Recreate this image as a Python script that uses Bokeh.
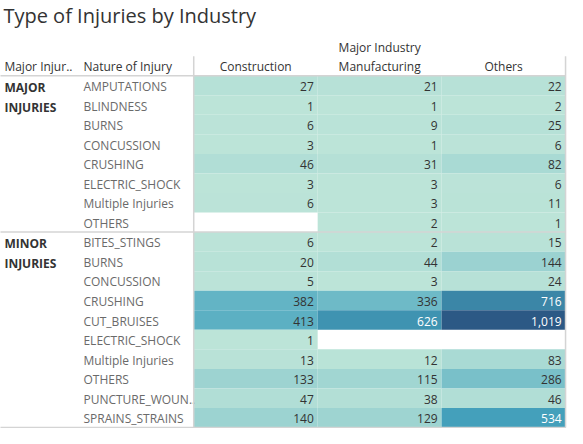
import numpy as np
from bokeh.plotting import figure
from bokeh.models import Range1d
from bokeh.core.properties import value
from bokeh.embed import file_html
from bokeh.resources import INLINE

title = "Type of Injuries by Industry"
industries = ["Construction", "Manufacturing", "Others"]
groups = ["MAJOR\nINJURIES", "MINOR\nINJURIES"]

major_natures = ["AMPUTATIONS", "BLINDNESS", "BURNS", "CONCUSSION", "CRUSHING",
                 "ELECTRIC_SHOCK", "Multiple Injuries", "OTHERS"]
construction_major = [27, 1, 6, 3, 46, 3, 6, None]
manufacturing_major = [21, 1, 9, 1, 31, 3, 3, 2]
others_major = [22, 2, 25, 6, 82, 6, 11, 1]

minor_natures = ["BITES_STINGS", "BURNS", "CONCUSSION", "CRUSHING", "CUT_BRUISES",
                 "ELECTRIC_SHOCK", "Multiple Injuries", "OTHERS", "PUNCTURE_WOUN..",
                 "SPRAINS_STRAINS"]
construction_minor = [6, 20, 5, 382, 413, 1, 13, 133, 47, 140]
manufacturing_minor = [2, 44, 3, 336, 626, None, 12, 115, 38, 129]
others_minor = [15, 144, 24, 716, 1019, None, 83, 286, 46, 534]

# ---- layout (in reference pixel coordinates) ----
FONT = value("Open Sans")
FS = "12px"
ROW_TOP = 83
ROW_H = 20
COL_X0 = 200
COL_W = 127
ROW_LABEL_X = 87
GROUP_X = 6

natures = major_natures + minor_natures
cols = [construction_major + construction_minor,
        manufacturing_major + manufacturing_minor,
        others_major + others_minor]

all_vals = [v for c in cols for v in c if v is not None]
vmin, vmax = min(all_vals), max(all_vals)

stops = np.array([0.0, 0.5, 1.0])
stop_rgb = np.array([[0xbc, 0xe4, 0xd8], [0x45, 0xa4, 0xbe], [0x2c, 0x59, 0x85]], dtype=float)

def color_for(v):
    t = (v - vmin) / (vmax - vmin)
    rgb = [np.interp(t, stops, stop_rgb[:, k]) for k in range(3)]
    return "#%02x%02x%02x" % tuple(int(round(c)) for c in rgb)

p = figure(width=567, height=428, output_backend="svg", toolbar_location=None,
           x_range=Range1d(2, 583), y_range=Range1d(444, 6), min_border=0)
p.axis.visible = False
p.grid.visible = False
p.outline_line_color = None
p.background_fill_color = "white"
p.border_fill_color = "white"

# cells
L, R, T, B, C = [], [], [], [], []
tx, ty, tt, tc = [], [], [], []
for ci, col in enumerate(cols):
    for ri, v in enumerate(col):
        if v is None:
            continue
        left = COL_X0 + ci * COL_W
        top = ROW_TOP + ri * ROW_H
        L.append(left); R.append(left + COL_W)
        T.append(top); B.append(top + ROW_H)
        C.append(color_for(v))
        tx.append(left + COL_W - 4); ty.append(top + ROW_H / 2 + 1)
        tt.append(f"{v:,}")
        tc.append("white" if (v - vmin) / (vmax - vmin) > 0.5 else "#333333")

p.quad(left=L, right=R, top=T, bottom=B, fill_color=C, line_color=None)
p.text(x=tx, y=ty, text=tt, text_color=tc, text_font=FONT, text_font_size=FS,
       text_align="right", text_baseline="middle")

# row labels
ry = [ROW_TOP + i * ROW_H + ROW_H / 2 + 1 for i in range(len(natures))]
p.text(x=[ROW_LABEL_X] * len(natures), y=ry, text=natures, text_color="#6a6a6a",
       text_font=FONT, text_font_size=FS, text_baseline="middle")

# group labels
gy = [ROW_TOP + 3, ROW_TOP + len(major_natures) * ROW_H + 3]
p.text(x=[GROUP_X] * 2, y=gy, text=groups, text_color="#333333", text_font=FONT,
       text_font_size=FS, text_font_style="bold", text_baseline="top",
       text_line_height=1.2)

# lines
line_color = "#d4d4d4"
p.segment(x0=[0, 0, 0], x1=[581, 581, 581],
          y0=[ROW_TOP, ROW_TOP + len(major_natures) * ROW_H, ROW_TOP + len(natures) * ROW_H],
          y1=[ROW_TOP, ROW_TOP + len(major_natures) * ROW_H, ROW_TOP + len(natures) * ROW_H],
          line_color=line_color, line_width=1.5)
p.segment(x0=[COL_X0, 581], x1=[COL_X0, 581], y0=[63, 63],
          y1=[ROW_TOP + len(natures) * ROW_H] * 2, line_color=line_color, line_width=1.5)

# headers
p.text(x=[COL_X0 + ci * COL_W + COL_W / 2 for ci in range(3)], y=[74] * 3, text=industries,
       text_color="#333333", text_font=FONT, text_font_size=FS,
       text_align="center", text_baseline="middle")
p.text(x=[COL_X0 + 1.5 * COL_W], y=[54], text=["Major Industry"], text_color="#333333",
       text_font=FONT, text_font_size=FS, text_align="center", text_baseline="middle")
p.text(x=[GROUP_X, ROW_LABEL_X], y=[74, 74], text=["Major Injur..", "Nature of Injury"],
       text_color="#333333", text_font=FONT, text_font_size=FS, text_baseline="middle")

# title
p.text(x=[5], y=[21], text=[title], text_color="#333333", text_font=FONT,
       text_font_size="20px", text_baseline="middle")

open("out.html", "w").write(file_html(p, INLINE))
